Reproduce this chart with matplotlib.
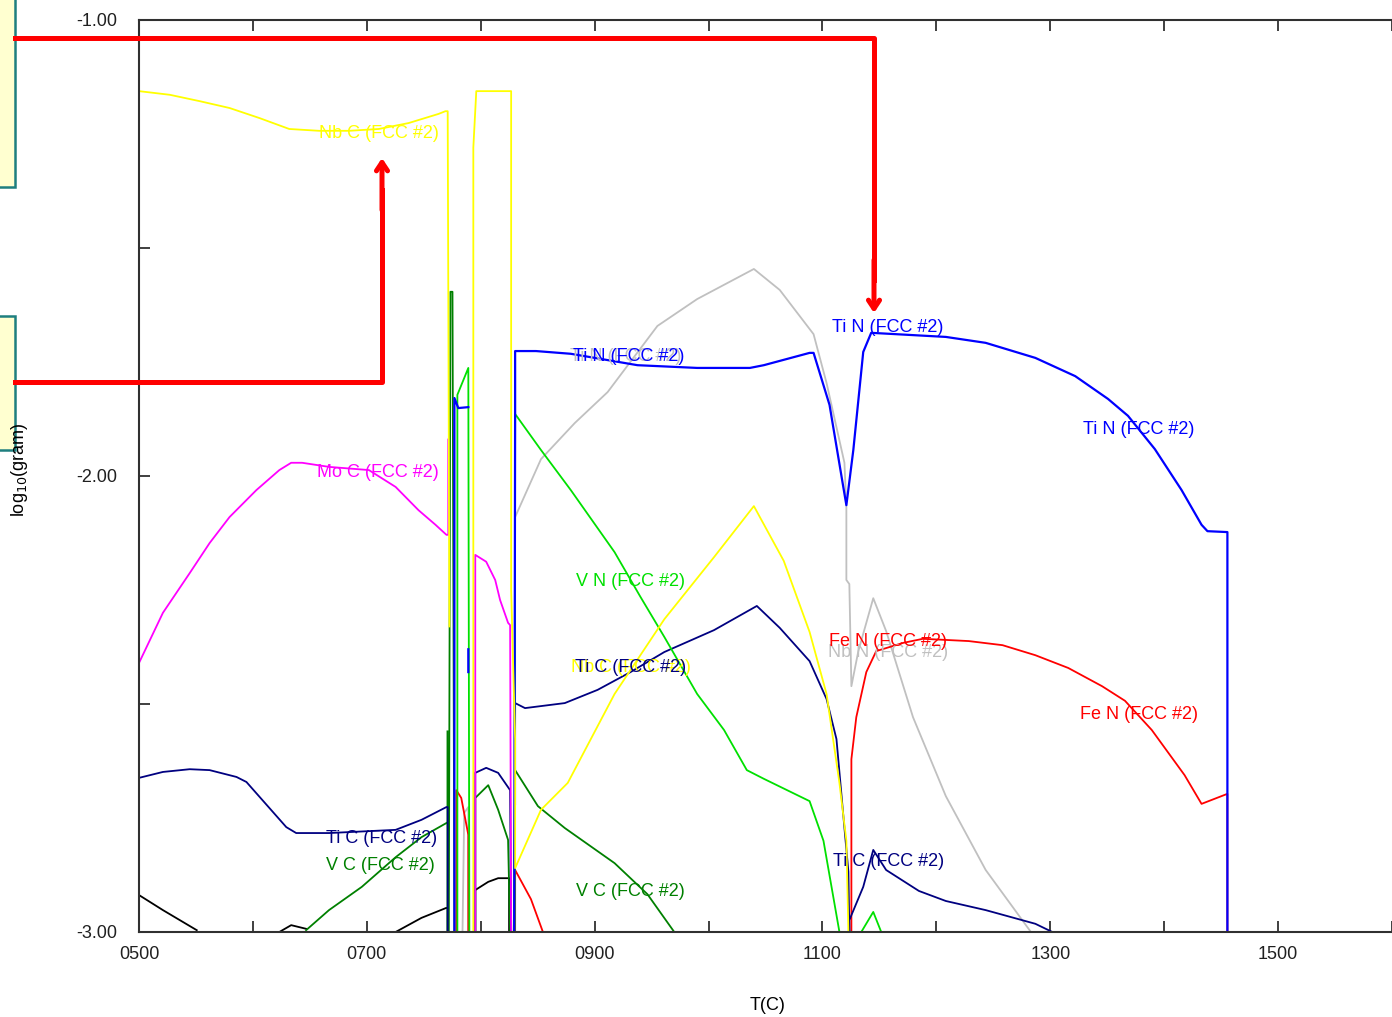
import numpy as np
import matplotlib.pyplot as plt
from matplotlib.patches import Rectangle, FancyArrowPatch
from matplotlib.lines import Line2D

nan = np.nan

# ---- data (temperature in C, log10 of mass in gram) ----
nbc_T = [500, 527, 553.3, 579.5, 605.7, 631.9, 658.1, 684.3, 710.5, 736.7, 762.9, 769, 771, 772.5, nan,
         793.5, 793.5, 796.1, 824.9, 826.7, 826.7, 830.2, 830.2, 852.9, 876.4, 917.5, 961.2, 1004.8,
         1039.8, 1066, 1088.7, 1103.6, 1114.9, 1121, 1122.8]
nbc_v = [-1.156, -1.164, -1.178, -1.193, -1.215, -1.239, -1.243, -1.243, -1.239, -1.226, -1.206, -1.200, -1.200, -2.33, nan,
         -3.0, -1.28, -1.156, -1.156, -1.156, -2.25, -2.577, -2.860, -2.732, -2.673, -2.478, -2.314, -2.178,
         -2.066, -2.186, -2.342, -2.478, -2.673, -2.800, -3.0]

moc_T = [500, 521, 544.5, 562, 579.5, 603, 623.2, 633.6, 643.2, 666.8, 701.8, 725.3, 745.4, 760.3, 769.9,
         771.5, 771.5, nan, 795.2, 795.2, 804.8, 812.7, 817, 824, 825.8, 826.7]
moc_v = [-2.410, -2.300, -2.213, -2.147, -2.090, -2.031, -1.987, -1.971, -1.971, -1.980, -1.987, -2.024, -2.075, -2.107, -2.129,
         -2.129, -1.92, nan, -3.0, -2.173, -2.188, -2.228, -2.272, -2.322, -2.327, -3.0]

tin_T = [776.9, 776.9, 780.3, 789.1, nan,
         789.1, 789.1, nan,
         829.4, 830.2, 830.2, 848.5, 879.1, 937.6, 990, 1036.3, 1048.5, 1088.7, 1092.2, 1106.2, 1119.3, 1121,
         1127.1, 1135.8, 1142.8, 1208.3, 1243.3, 1286.9, 1321.9, 1350.7, 1368.2, 1391.8, 1415.3, 1432.8, 1438,
         1455.5, 1455.5]
tin_v = [-3.0, -1.829, -1.851, -1.849, nan,
         -2.38, -2.43, nan,
         -3.0, -1.864, -1.726, -1.726, -1.732, -1.757, -1.763, -1.763, -1.757, -1.730, -1.730, -1.844, -2.039, -2.064,
         -1.943, -1.728, -1.686, -1.695, -1.708, -1.741, -1.781, -1.831, -1.868, -1.941, -2.031, -2.107, -2.121,
         -2.123, -3.0]

nbn_T = [784, 785.5, 789.1, 789.1, nan,
         830.2, 830.2, 852.9, 882.5, 911.4, 955.1, 990, 1039.8, 1062.5, 1092.2, 1103.6, 1119.3, 1121, 1121,
         1123.6, 1125.4, 1131.5, 1144.6, 1155.9, 1179.5, 1208.3, 1243.3, 1283]
nbn_v = [-3.0, -2.739, -2.726, -3.0, nan,
         -3.0, -2.090, -1.963, -1.884, -1.816, -1.671, -1.612, -1.546, -1.592, -1.689, -1.796, -1.971, -2.070, -2.228,
         -2.237, -2.461, -2.384, -2.268, -2.340, -2.529, -2.702, -2.864, -3.0]

vn_T = [779.5, 779.5, 789.1, 790, nan,
        829.8, 830.2, 852.9, 879.1, 917.5, 940.2, 961.2, 990, 1013.6, 1033.6, 1048.5, 1088.7, 1100.9, 1114.9, nan,
        1134.1, 1144.6, 1151.6]
vn_v = [-3.0, -1.822, -1.763, -3.0, nan,
        -3.0, -1.864, -1.943, -2.031, -2.167, -2.265, -2.353, -2.478, -2.557, -2.645, -2.664, -2.713, -2.800, -3.0, nan,
        -3.0, -2.956, -3.0]

tic_T = [500, 521, 544.5, 562, 585.6, 594.3, 629.3, 638, 666.8, 725.3, 748, 769.9, 771, 771, nan,
         795.2, 795.2, 804.8, 815.3, 825.8, 826.7, nan,
         830.2, 830.2, 838.9, 873.8, 902.6, 931.5, 961.2, 1004.8, 1042.4, 1062.5, 1088.7, 1103.6, 1112.3, 1119.3,
         1122.8, 1123.6, 1123.6, 1135.8, 1144.6, 1155.9, 1184.7, 1208.3, 1243.3, 1286.9, 1301.8]
tic_v = [-2.662, -2.649, -2.643, -2.645, -2.660, -2.671, -2.770, -2.783, -2.783, -2.776, -2.754, -2.726, -2.726, -3.0, nan,
         -3.0, -2.651, -2.640, -2.651, -2.689, -3.0, nan,
         -2.72, -2.498, -2.509, -2.498, -2.469, -2.430, -2.386, -2.338, -2.285, -2.333, -2.406, -2.489, -2.577, -2.772,
         -2.868, -3.0, -2.974, -2.901, -2.820, -2.864, -2.910, -2.932, -2.952, -2.982, -3.0]

vc_T = [646.7, 666.8, 695.6, 725.3, 748, 769.9, nan,
        770.8, 770.8, nan,
        772, 773.4, 775.2, 776.9, nan,
        795.2, 795.2, 806.6, 815.3, 824, 825.8, nan,
        829, 830.2, 850.2, 873.8, 917.5, 946.3, 969.9]
vc_v = [-2.996, -2.952, -2.901, -2.836, -2.792, -2.761, nan,
        -2.56, -3.0, nan,
        -3.0, -1.596, -1.596, -3.0, nan,
        -3.0, -2.706, -2.678, -2.732, -2.798, -3.0, nan,
        -3.0, -2.645, -2.724, -2.772, -2.849, -2.917, -3.0]

fen_T = [778.6, 778.6, 782.9, 789.1, 789.1, nan,
         830.2, 830.2, 844.1, 854.6, nan,
         1125.4, 1125.4, 1129.7, 1138.5, 1147.2, 1170.8, 1188.2, 1228.4, 1258.1, 1286.9, 1315.8, 1345.5, 1365.6,
         1389.1, 1417.9, 1432.8, 1455.5, 1455.5]
fen_v = [-3.0, -2.689, -2.706, -2.787, -3.0, nan,
         -3.0, -2.864, -2.928, -3.0, nan,
         -3.0, -2.621, -2.529, -2.430, -2.384, -2.366, -2.357, -2.362, -2.371, -2.393, -2.421, -2.461, -2.493,
         -2.557, -2.656, -2.719, -2.697, -3.0]

blk_T = [500, 521, 550.7, nan, 623.2, 633.6, 646.7, nan, 725.3, 748, 769.9, 771, 771, nan,
         795.2, 795.2, 806.6, 815.3, 824, 824.9, 824.9]
blk_v = [-2.919, -2.952, -2.996, nan, -3.0, -2.985, -2.993, nan, -3.0, -2.969, -2.947, -2.947, -3.0, nan,
         -3.0, -2.908, -2.890, -2.882, -2.882, -2.882, -3.0]

# curve labels: text, colour, T, value
lab_text = ["Nb C (FCC #2)", "Mo C (FCC #2)", "Ti N (FCC #2)", "Ti N (FCC #2)", "Ti N (FCC #2)",
            "Ti N (FCC #2)", "V N (FCC #2)", "Nb C (FCC #2)", "Ti C (FCC #2)", "Nb N (FCC #2)",
            "Fe N (FCC #2)", "Fe N (FCC #2)", "Ti C (FCC #2)", "V C (FCC #2)", "V C (FCC #2)", "Ti C (FCC #2)"]
lab_color = ["#FFFF00", "#FF00FF", "#C0C0C0", "#0000FF", "#0000FF",
             "#0000FF", "#00E000", "#FFFF00", "#000080", "#C0C0C0",
             "#FF0000", "#FF0000", "#000080", "#008000", "#008000", "#000080"]
lab_T = [658.1, 656.3, 878.2, 880.8, 1108.8,
         1328.9, 883.4, 879.1, 882.5, 1105.3,
         1106.1, 1326.2, 664.2, 664.2, 883.4, 1109.6]
lab_v = [-1.248, -1.993, -1.739, -1.739, -1.675,
         -1.899, -2.232, -2.419, -2.419, -2.388,
         -2.362, -2.522, -2.794, -2.855, -2.912, -2.846]

W, H = 1392, 1017
plt.rcParams['font.family'] = ['Liberation Sans', 'DejaVu Sans']
fig = plt.figure(figsize=(W / 100, H / 100), dpi=100)
ax = fig.add_axes([139 / W, 1 - 932 / H, 1 - 139 / W, (932 - 20) / H])

lw = 1.3
ax.plot(blk_T, blk_v, color="#000000", lw=lw)
ax.plot(vc_T, vc_v, color="#008000", lw=lw)
ax.plot(nbn_T, nbn_v, color="#C0C0C0", lw=lw)
ax.plot(fen_T, fen_v, color="#FF0000", lw=lw)
ax.plot(tic_T, tic_v, color="#000080", lw=lw)
ax.plot(vn_T, vn_v, color="#00E000", lw=lw)
ax.plot(moc_T, moc_v, color="#FF00FF", lw=lw)
ax.plot(tin_T, tin_v, color="#0000FF", lw=1.6)
ax.plot(nbc_T, nbc_v, color="#FFFF00", lw=lw)

for t, c, x, y in zip(lab_text, lab_color, lab_T, lab_v):
    ax.text(x, y, t, color=c, fontsize=13, ha='left', va='center')

ax.set_xlim(500, 500 + (W - 139) * 0.8734)
ax.set_ylim(-3.0, -1.0)
ax.set_xticks(np.arange(500, 1601, 100))
ax.set_xticklabels(["%04d" % t if (t - 500) % 200 == 0 else "" for t in range(500, 1601, 100)])
ax.set_yticks([-3.0, -2.0, -1.0])
ax.set_yticklabels(["-3.00", "-2.00", "-1.00"])
ax.set_yticks([-2.5, -1.5], minor=True)
ax.tick_params(which='both', direction='in', length=8, width=1.3, color='#303030',
               top=True, labelsize=13, labelcolor='#202020')
ax.tick_params(axis='x', pad=10)
ax.tick_params(axis='y', pad=16)
for s in ['left', 'top', 'bottom']:
    ax.spines[s].set_color('#303030')
    ax.spines[s].set_linewidth(1.5)
ax.spines['right'].set_visible(False)

fig.text(20 / W, 1 - 470 / H, "log$_{10}$(gram)", rotation=90, ha='center', va='center', fontsize=13)
fig.text(768 / W, 1 - 1005 / H, "T(C)", ha='center', va='center', fontsize=13)

# side boxes
fig.add_artist(Rectangle((-5 / W, 1 - 187 / H), 20 / W, 200 / H, transform=fig.transFigure,
                         facecolor='#FFFFD0', edgecolor='#1E7F7F', lw=1.8))
fig.add_artist(Rectangle((-5 / W, 1 - 450 / H), 20 / W, 134 / H, transform=fig.transFigure,
                         facecolor='#FFFFD0', edgecolor='#1E7F7F', lw=1.8))

# red arrows
def fx(p):
    return p / W

def fy(p):
    return 1 - p / H

fig.add_artist(Line2D([fx(15), fx(874), fx(874)], [fy(38), fy(38), fy(280)],
                      transform=fig.transFigure, color='#FF0000', lw=3.6))
fig.add_artist(FancyArrowPatch((fx(874), fy(260)), (fx(874), fy(313)), transform=fig.transFigure,
                               arrowstyle='->,head_length=6,head_width=4', color='#FF0000', lw=3.6,
                               shrinkA=0, shrinkB=0))
fig.add_artist(Line2D([fx(15), fx(382), fx(382)], [fy(382), fy(382), fy(190)],
                      transform=fig.transFigure, color='#FF0000', lw=3.6))
fig.add_artist(FancyArrowPatch((fx(382), fy(210)), (fx(382), fy(158)), transform=fig.transFigure,
                               arrowstyle='->,head_length=6,head_width=4', color='#FF0000', lw=3.6,
                               shrinkA=0, shrinkB=0))

fig.savefig("out.png", dpi=100)
